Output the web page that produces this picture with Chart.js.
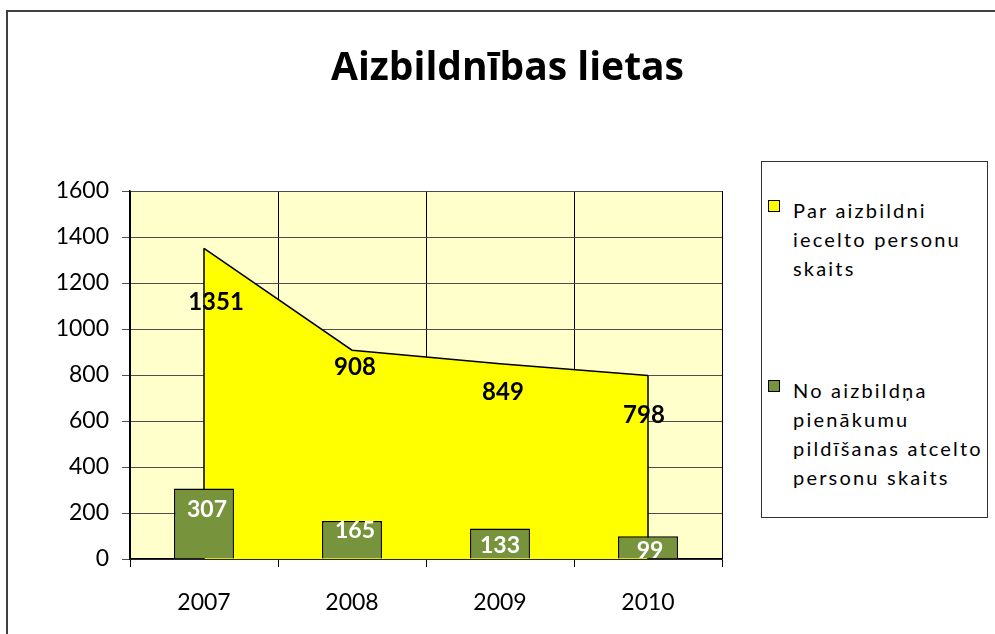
<!DOCTYPE html>
<html>
<head>
<meta charset="utf-8">
<script src="https://cdn.jsdelivr.net/npm/chart.js@4.4.1/dist/chart.umd.min.js"></script>
<style>
    body { margin: 0; background: #fff; font-family: Lato, sans-serif; }
    #wrap { position: absolute; left: 0; top: 0; width: 995px; height: 634px; }
    #frame { position: absolute; left: 6px; top: 10px; width: 1100px; height: 800px;
             border: 2px solid #404040; pointer-events: none; }
    #legend { position: absolute; left: 761px; top: 161px; width: 225px; height: 355px;
              border: 1px solid #333; background: #fff; }
    .item { position: relative; padding-left: 31px; font-size: 20px; line-height: 29px;
            letter-spacing: 2.2px; color: #000; white-space: nowrap; }
    .item .box { position: absolute; left: 6px; top: 4px; width: 10px; height: 10px;
                 border: 1px solid #000; }
</style>
</head>
<body>
<div id="frame"></div>
<div id="wrap"><canvas id="chart"></canvas></div>
<div id="legend"></div>
<script>
// Data
const years = ['2007', '2008', '2009', '2010'];
const appointed = [1351, 908, 849, 798];
const revoked = [307, 165, 133, 99];
const appointedName = ['Par aizbildni', 'iecelto personu', 'skaits'];
const revokedName = ['No aizbildņa', 'pienākumu', 'pildīšanas atcelto', 'personu skaits'];

const yellow = '#FFFF00';
const green = '#77933C';

// label offsets from the point / bar top (px)
const areaLabelShift = [[12, 54], [3, 17], [3, 29], [-4, 40]];
const barLabelShift = [[3, 21], [3, 10], [0, 17], [2, 14]];

const plotBackground = {
    id: 'plotBackground',
    beforeDraw(chart) {
        const a = chart.chartArea;
        chart.ctx.save();
        chart.ctx.fillStyle = '#FFFFCC';
        chart.ctx.fillRect(a.left, a.top, a.right - a.left, a.bottom - a.top);
        chart.ctx.restore();
    }
};

// vertical edges of the area series
const areaEdges = {
    id: 'areaEdges',
    afterDatasetDraw(chart, args) {
        if (args.index !== 1) return;
        const pts = args.meta.data;
        const zero = chart.scales.y.getPixelForValue(0);
        const ctx = chart.ctx;
        ctx.save();
        ctx.strokeStyle = '#000';
        ctx.lineWidth = 1.5;
        ctx.beginPath();
        ctx.moveTo(pts[0].x, zero);
        ctx.lineTo(pts[0].x, pts[0].y);
        ctx.moveTo(pts[pts.length - 1].x, zero);
        ctx.lineTo(pts[pts.length - 1].x, pts[pts.length - 1].y);
        ctx.stroke();
        ctx.restore();
    }
};

const valueLabels = {
    id: 'valueLabels',
    afterDatasetsDraw(chart) {
        const ctx = chart.ctx;
        ctx.save();
        ctx.textAlign = 'center';
        ctx.textBaseline = 'middle';
        chart.getDatasetMeta(1).data.forEach(function(pt, i) {
            ctx.font = 'bold 24px Lato';
            ctx.fillStyle = '#000';
            ctx.fillText(appointed[i], pt.x + areaLabelShift[i][0], pt.y + areaLabelShift[i][1]);
        });
        chart.getDatasetMeta(0).data.forEach(function(bar, i) {
            ctx.font = 'bold 23px Lato';
            ctx.fillStyle = '#fff';
            ctx.fillText(revoked[i], bar.x + barLabelShift[i][0], bar.y + barLabelShift[i][1]);
        });
        ctx.restore();
    }
};

const ctx = document.getElementById('chart').getContext('2d');
const chart = new Chart(ctx, {
    type: 'bar',
    data: {
        labels: years,
        datasets: [{
            label: revokedName.join(' '),
            data: revoked,
            backgroundColor: green,
            borderColor: '#000',
            borderWidth: 1.5,
            borderSkipped: 'bottom',
            barPercentage: 0.405,
            categoryPercentage: 1,
            order: 0
        }, {
            type: 'line',
            label: appointedName.join(' '),
            data: appointed,
            backgroundColor: yellow,
            borderColor: '#000',
            borderWidth: 1.5,
            fill: 'origin',
            tension: 0,
            pointRadius: 0,
            order: 1
        }]
    },
    options: {
        responsive: true,
        maintainAspectRatio: false,
        animation: false,
        layout: {
            padding: { left: 20, right: 0, top: 0, bottom: 0 }
        },
        plugins: {
            legend: { display: false },
            tooltip: { enabled: false },
            title: {
                display: true,
                text: 'Aizbildnības lietas',
                color: '#000',
                font: { family: 'Open Sans', size: 39, weight: 'bold', lineHeight: 1.2 },
                padding: { top: 45, bottom: 99.2 }
            }
        },
        scales: {
            x: {
                grid: {
                    offset: true,
                    color: function(c) { return c.index === years.length ? '#808080' : '#000'; },
                    lineWidth: 1,
                    tickLength: 8
                },
                border: { color: '#000', width: 1.5 },
                ticks: {
                    color: '#000',
                    padding: 22,
                    font: { family: 'Lato', size: 23 }
                },
                afterFit: function(scale) { scale.height = 75; }
            },
            y: {
                min: 0,
                max: 1600,
                ticks: {
                    stepSize: 200,
                    color: '#000',
                    padding: 13,
                    font: { family: 'Lato', size: 23 },
                    callback: function(value) { return String(value); }
                },
                grid: { color: '#4d4d4d', lineWidth: 1, tickLength: 8 },
                border: { color: '#000', width: 1.5 },
                afterFit: function(scale) { scale.width = 110; }
            },
            y2: {
                position: 'right',
                display: true,
                grid: { display: false },
                border: { display: false },
                ticks: { display: false },
                afterFit: function(scale) { scale.width = 273; }
            }
        }
    },
    plugins: [plotBackground, areaEdges, valueLabels]
});

// HTML legend
const legendEl = document.getElementById('legend');
[[appointedName, yellow, 34], [revokedName, green, 93]].forEach(function(entry) {
    const item = document.createElement('div');
    item.className = 'item';
    item.style.marginTop = entry[2] + 'px';
    item.innerHTML = '<span class="box" style="background:' + entry[1] + '"></span>' + entry[0].join('<br>');
    legendEl.appendChild(item);
});
</script>
</body>
</html>
